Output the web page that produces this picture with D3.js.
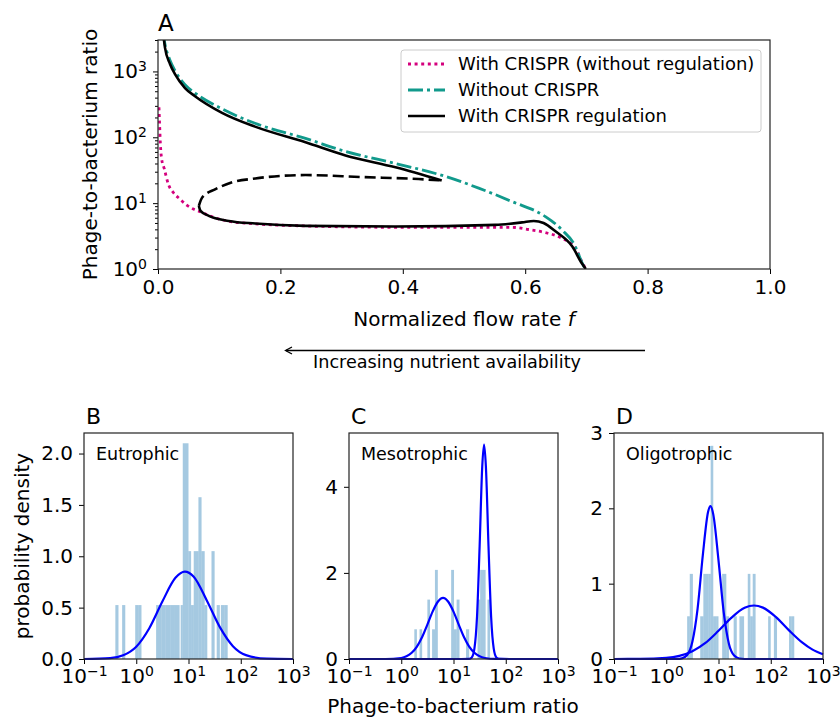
<!DOCTYPE html>
<html>
<head>
<meta charset="utf-8">
<script src="https://cdn.jsdelivr.net/npm/d3@7"></script>
<style>
  body { margin: 0; background: #fff; }
  svg { display: block; font-family: "DejaVu Sans", sans-serif; }
  .axis path.domain { display: none; }
  .axis line { stroke: #000; stroke-width: 1; }
  .axis text { font-size: 20px; fill: #000; font-family: "DejaVu Sans", sans-serif; }
</style>
</head>
<body>
<svg id="fig" width="840" height="717"></svg>
<script>
// ---------- panel A: flow rate f vs phage-to-bacterium ratio ----------
const flowTicks = [0, 0.2, 0.4, 0.6, 0.8, 1.0];
const ratioTicks = [1, 10, 100, 1000];
const legendLabels = ['With CRISPR (without regulation)', 'Without CRISPR', 'With CRISPR regulation'];

// [f, ratio]
const withoutRegulation = [
  [0.0016, 285], [0.0027, 151], [0.0038, 83], [0.006, 46.8], [0.0103, 33.1],
  [0.0168, 19.5], [0.025, 14.5], [0.0359, 11.5], [0.047, 9.33], [0.0577, 8.13],
  [0.0722, 7.2], [0.083, 6.5], [0.1157, 5.3], [0.159, 4.85], [0.241, 4.5],
  [0.388, 4.3], [0.551, 4.3], [0.578, 4.3], [0.605, 3.98], [0.633, 3.57],
  [0.66, 2.93], [0.682, 2.07], [0.6925, 1.3], [0.699, 1.0]
];
const withoutCrispr = [
  [0.008, 3981], [0.0114, 2600], [0.0196, 1480], [0.028, 1020], [0.0441, 630],
  [0.0605, 470], [0.1046, 270], [0.1585, 163], [0.241, 96], [0.3064, 61],
  [0.388, 40], [0.47, 25.4], [0.524, 16.9], [0.578, 10.6], [0.633, 6.25],
  [0.66, 3.93], [0.682, 2.19], [0.692, 1.3], [0.698, 1.0]
];
const regulationUpper = [
  [0.0085, 3700], [0.0114, 2300], [0.0196, 1300], [0.028, 900], [0.0441, 560],
  [0.0605, 420], [0.1046, 235], [0.1585, 145], [0.241, 84], [0.3064, 53],
  [0.388, 35], [0.4636, 22.1]
];
const regulationUnstable = [
  [0.0667, 9.1], [0.0722, 12.2], [0.094, 16.3], [0.12, 20.6], [0.159, 23.7],
  [0.241, 26.7], [0.3337, 24.9], [0.426, 23.2], [0.4636, 22.1]
];
const regulationLower = [
  [0.0667, 9.1], [0.0695, 7.64], [0.083, 6.41], [0.1157, 5.37], [0.159, 4.9],
  [0.241, 4.51], [0.388, 4.41], [0.551, 4.68], [0.595, 5.1], [0.614, 5.37],
  [0.63, 5.0], [0.65, 3.7], [0.677, 2.19], [0.6925, 1.22], [0.699, 1.0]
];

// ---------- panels B-D: histograms [log10 left, log10 right, density] ----------
const ratioBinsTicks = [0.1, 1, 10, 100, 1000];
const panelNames = ['Eutrophic', 'Mesotrophic', 'Oligotrophic'];
const eutroBars = [
  [-0.40, -0.34, 0.525], [-0.27, -0.21, 0.525], [-0.02, 0.04, 0.525], [0.04, 0.10, 0.525],
  [0.38, 0.48, 0.525], [0.48, 0.56, 0.525], [0.56, 0.65, 0.525], [0.65, 0.74, 0.525],
  [0.74, 0.83, 0.525], [0.85, 0.89, 0.525], [0.89, 1.00, 2.1], [1.00, 1.05, 1.05],
  [1.05, 1.10, 0.525], [1.10, 1.19, 1.05], [1.19, 1.25, 1.575], [1.25, 1.31, 1.05],
  [1.31, 1.36, 0.525], [1.44, 1.50, 1.05], [1.54, 1.60, 0.525], [1.62, 1.69, 0.525],
  [1.69, 1.75, 0.525]
];
const mesoBars = [
  [0.25, 0.30, 0.69], [0.35, 0.40, 0.69], [0.50, 0.55, 1.38], [0.59, 0.645, 0.69],
  [0.645, 0.70, 2.07], [0.955, 1.01, 2.07], [1.01, 1.06, 0.69], [1.06, 1.115, 1.38],
  [1.24, 1.30, 0.69], [1.46, 1.51, 1.38], [1.51, 1.615, 2.07], [1.65, 1.70, 1.38]
];
const oligoBars = [
  [0.40, 0.45, 0.567], [0.45, 0.51, 1.13], [0.65, 0.71, 0.567], [0.71, 0.76, 1.13],
  [0.76, 0.81, 1.13], [0.81, 0.85, 1.13], [0.85, 0.90, 2.83], [0.90, 0.955, 0.567],
  [0.955, 1.00, 0.567], [1.07, 1.15, 1.13], [1.15, 1.20, 0.567], [1.29, 1.35, 0.567],
  [1.40, 1.45, 0.567], [1.45, 1.49, 0.567], [1.56, 1.61, 1.13], [1.61, 1.655, 0.567],
  [1.655, 1.71, 1.13], [1.95, 2.00, 0.567], [2.06, 2.12, 0.567], [2.35, 2.40, 0.567],
  [2.40, 2.45, 0.567]
];

// fitted curves [log10 ratio, density]
const eutroFit = [
  [-1, 0], [-0.5, 0.008], [-0.25, 0.036], [0, 0.12], [0.25, 0.30], [0.5, 0.56],
  [0.75, 0.79], [0.93, 0.85], [1.1, 0.80], [1.35, 0.57], [1.6, 0.31], [1.85, 0.125],
  [2.1, 0.038], [2.5, 0.003], [3, 0]
];
const mesoFitLow = [
  [-1, 0], [-0.3, 0], [0, 0.024], [0.1, 0.062], [0.2, 0.144], [0.3, 0.288], [0.4, 0.51],
  [0.5, 0.80], [0.6, 1.10], [0.7, 1.33], [0.8, 1.42], [0.9, 1.33], [1.0, 1.10],
  [1.1, 0.80], [1.2, 0.51], [1.3, 0.288], [1.4, 0.144], [1.5, 0.062], [1.6, 0.024],
  [1.8, 0.002], [2.1, 0], [3, 0]
];
const mesoFitHigh = [
  [-1, 0], [1.0, 0], [1.3, 0.004], [1.35, 0.037], [1.4, 0.24], [1.45, 0.98], [1.5, 2.62],
  [1.55, 4.47], [1.585, 4.98], [1.62, 4.47], [1.67, 2.62], [1.72, 0.98], [1.77, 0.24],
  [1.82, 0.037], [1.87, 0.004], [2.1, 0], [3, 0]
];
const oligoFitLow = [
  [-1, 0], [0, 0], [0.2, 0.001], [0.3, 0.009], [0.4, 0.053], [0.5, 0.23], [0.6, 0.67],
  [0.7, 1.38], [0.8, 1.95], [0.845, 2.03], [0.9, 1.92], [1.0, 1.31], [1.1, 0.62],
  [1.2, 0.20], [1.3, 0.045], [1.4, 0.007], [1.6, 0], [3, 0]
];
const oligoFitHigh = [
  [-1, 0], [-0.5, 0.001], [0, 0.014], [0.25, 0.041], [0.5, 0.103], [0.75, 0.213],
  [1.0, 0.374], [1.25, 0.549], [1.5, 0.679], [1.68, 0.71], [1.85, 0.682], [2.1, 0.556],
  [2.35, 0.38], [2.6, 0.22], [2.8, 0.124], [3.0, 0.063]
];

const svg = d3.select('#fig');

function powLabel(sel) {
  sel.each(function (d) {
    const e = Math.round(Math.log10(d));
    const t = d3.select(this).text(null);
    t.append('tspan').text('10');
    t.append('tspan').attr('dy', '-0.5em').attr('font-size', '0.7em')
      .text(e < 0 ? '\u2212' + (-e) : String(e));
  });
}

// ================= Panel A =================
const A = { left: 158, right: 770, top: 40, bottom: 269 };
const xA = d3.scaleLinear().domain([0, 1]).range([A.left, A.right]);
const yA = d3.scaleLog().domain([1, 3000]).range([A.bottom, A.top]);

svg.append('clipPath').attr('id', 'clipA')
  .append('rect').attr('x', A.left).attr('y', A.top)
  .attr('width', A.right - A.left).attr('height', A.bottom - A.top);

const lineA = d3.line().x(d => xA(d[0])).y(d => yA(d[1])).curve(d3.curveMonotoneX);
const gA = svg.append('g').attr('clip-path', 'url(#clipA)');

const styleA = [
  { color: '#d4007d', dash: '3 3.6', width: 2.8 },
  { color: '#119a8c', dash: '15 4 3 4', width: 2.8 },
  { color: '#000', dash: null, width: 2.6 }
];

gA.append('path').attr('d', lineA(withoutRegulation)).attr('fill', 'none')
  .attr('stroke', styleA[0].color).attr('stroke-width', styleA[0].width)
  .attr('stroke-dasharray', styleA[0].dash);
gA.append('path').attr('d', lineA(withoutCrispr)).attr('fill', 'none')
  .attr('stroke', styleA[1].color).attr('stroke-width', styleA[1].width)
  .attr('stroke-dasharray', styleA[1].dash);
[regulationUpper, regulationLower].forEach(d => {
  gA.append('path').attr('d', lineA(d)).attr('fill', 'none')
    .attr('stroke', '#000').attr('stroke-width', styleA[2].width);
});
gA.append('path').attr('d', lineA(regulationUnstable)).attr('fill', 'none')
  .attr('stroke', '#000').attr('stroke-width', styleA[2].width)
  .attr('stroke-dasharray', '11 5');

// axes A
svg.append('g').attr('class', 'axis')
  .attr('transform', `translate(0,${A.bottom})`)
  .call(d3.axisBottom(xA).tickValues(flowTicks).tickFormat(d3.format('.1f'))
    .tickSize(5).tickPadding(6));

const minorA = [];
[1, 10, 100, 1000].forEach(b => {
  for (let k = 2; k <= 9; k++) if (b * k <= 3000) minorA.push(b * k);
});
svg.append('g').attr('class', 'axis')
  .attr('transform', `translate(${A.left},0)`)
  .call(d3.axisLeft(yA).tickValues(minorA).tickFormat('').tickSize(3));
svg.append('g').attr('class', 'axis')
  .attr('transform', `translate(${A.left},0)`)
  .call(d3.axisLeft(yA).tickValues(ratioTicks).tickSize(5).tickPadding(6))
  .call(g => g.selectAll('text').call(powLabel));

svg.append('rect').attr('x', A.left).attr('y', A.top)
  .attr('width', A.right - A.left).attr('height', A.bottom - A.top)
  .attr('fill', 'none').attr('stroke', '#222').attr('stroke-width', 1.2);

svg.append('text').attr('x', A.left).attr('y', 31).attr('font-size', 23).text('A');

const xlab = svg.append('text').attr('x', (A.left + A.right) / 2).attr('y', 326)
  .attr('text-anchor', 'middle').attr('font-size', 20);
xlab.append('tspan').text('Normalized flow rate ');
xlab.append('tspan').attr('font-style', 'italic').text('f');

svg.append('text').attr('transform', `translate(97,${(A.top + A.bottom) / 2}) rotate(-90)`)
  .attr('text-anchor', 'middle').attr('font-size', 20).text('Phage-to-bacterium ratio');

// legend
const leg = svg.append('g');
leg.append('rect').attr('x', 401).attr('y', 50).attr('width', 360).attr('height', 82)
  .attr('rx', 3).attr('fill', '#fff').attr('fill-opacity', 0.8)
  .attr('stroke', '#ccc').attr('stroke-width', 1);
legendLabels.forEach((lab, i) => {
  const cy = 64 + i * 26;
  leg.append('line').attr('x1', 408).attr('x2', 445).attr('y1', cy).attr('y2', cy)
    .attr('stroke', styleA[i].color).attr('stroke-width', styleA[i].width)
    .attr('stroke-dasharray', styleA[i].dash);
  leg.append('text').attr('x', 458).attr('y', cy + 6).attr('font-size', 18).text(lab);
});

// nutrient arrow
svg.append('line').attr('x1', 645).attr('x2', 286).attr('y1', 350.5).attr('y2', 350.5)
  .attr('stroke', '#000').attr('stroke-width', 1.3);
svg.append('path').attr('d', 'M292,347 L285.5,350.5 L292,354')
  .attr('fill', 'none').attr('stroke', '#000').attr('stroke-width', 1.3);
svg.append('text').attr('x', 447).attr('y', 368).attr('text-anchor', 'middle')
  .attr('font-size', 17.6).text('Increasing nutrient availability');

// ================= Panels B-D =================
const H = { top: 433, bottom: 659, width: 209 };

function drawHist(cfg) {
  const x = d3.scaleLog().domain([0.1, 1000]).range([cfg.left, cfg.left + H.width]);
  const y = d3.scaleLinear().domain([0, cfg.yMax]).range([H.bottom, H.top]);
  const g = svg.append('g');

  g.selectAll('rect.bar').data(cfg.bars).join('rect').attr('class', 'bar')
    .attr('x', d => x(10 ** d[0]))
    .attr('width', d => x(10 ** d[1]) - x(10 ** d[0]))
    .attr('y', d => y(d[2]))
    .attr('height', d => y(0) - y(d[2]))
    .attr('fill', '#1f77b4').attr('fill-opacity', 0.4);

  const line = d3.line().x(d => x(10 ** d[0])).y(d => y(d[1])).curve(d3.curveMonotoneX);
  cfg.fits.forEach(f => {
    g.append('path').attr('d', line(f)).attr('fill', 'none')
      .attr('stroke', '#0000ff').attr('stroke-width', 2.2);
  });

  g.append('g').attr('class', 'axis').attr('transform', `translate(0,${H.bottom})`)
    .call(d3.axisBottom(x).tickValues(ratioBinsTicks).tickSize(5).tickPadding(5))
    .call(a => a.selectAll('text').call(powLabel));

  g.append('g').attr('class', 'axis').attr('transform', `translate(${cfg.left},0)`)
    .call(d3.axisLeft(y).tickValues(cfg.yTicks).tickFormat(cfg.fmt).tickSize(5).tickPadding(6));

  g.append('rect').attr('x', cfg.left).attr('y', H.top)
    .attr('width', H.width).attr('height', H.bottom - H.top)
    .attr('fill', 'none').attr('stroke', '#222').attr('stroke-width', 1.2);

  g.append('text').attr('x', cfg.left + 2).attr('y', 424).attr('font-size', 22).text(cfg.letter);
  g.append('text').attr('x', cfg.left + 12).attr('y', 460).attr('font-size', 17.5).text(cfg.name);
}

drawHist({ left: 84, yMax: 2.2, yTicks: [0, 0.5, 1, 1.5, 2], fmt: d3.format('.1f'),
  bars: eutroBars, fits: [eutroFit], letter: 'B', name: panelNames[0] });
drawHist({ left: 349, yMax: 5.25, yTicks: [0, 2, 4], fmt: d3.format('d'),
  bars: mesoBars, fits: [mesoFitLow, mesoFitHigh], letter: 'C', name: panelNames[1] });
drawHist({ left: 614, yMax: 3, yTicks: [0, 1, 2, 3], fmt: d3.format('d'),
  bars: oligoBars, fits: [oligoFitLow, oligoFitHigh], letter: 'D', name: panelNames[2] });

svg.append('text').attr('transform', 'translate(29,546) rotate(-90)')
  .attr('text-anchor', 'middle').attr('font-size', 20).text('probability density');
svg.append('text').attr('x', 453).attr('y', 713).attr('text-anchor', 'middle')
  .attr('font-size', 20).text('Phage-to-bacterium ratio');
</script>
</body>
</html>
